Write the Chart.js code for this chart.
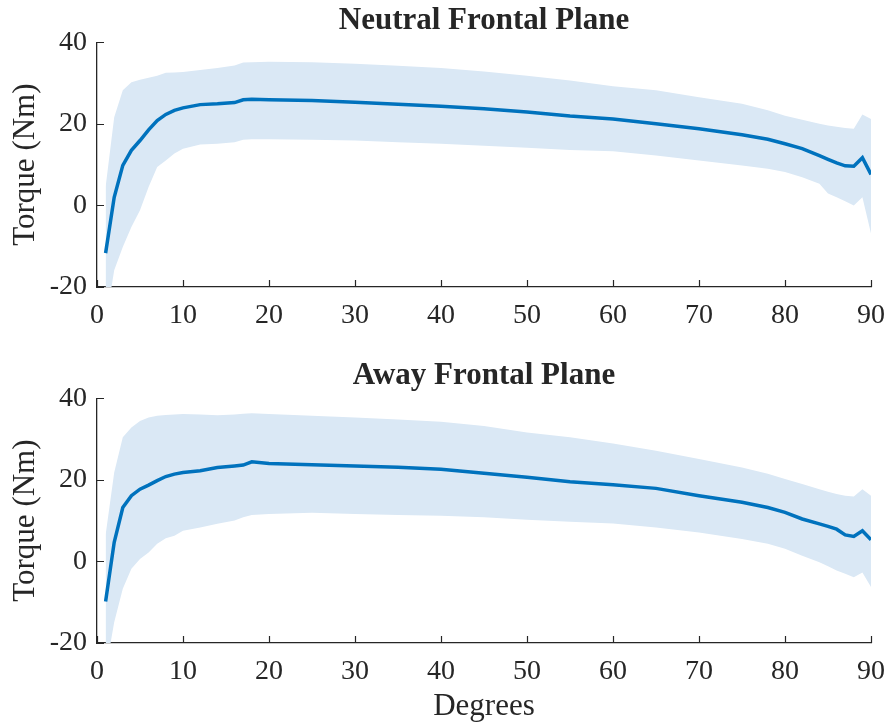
<!DOCTYPE html>
<html>
<head>
<meta charset="utf-8">
<script src="https://cdn.jsdelivr.net/npm/chart.js@4.4.1/dist/chart.umd.min.js"></script>
<style>
  html, body { margin: 0; padding: 0; background: #ffffff; }
  #page { position: relative; width: 891px; height: 725px; overflow: hidden; }
  .panel { position: absolute; left: 0; width: 891px; }
  #neutralPanel { top: 0; height: 345px; }
  #awayPanel { top: 345px; height: 380px; }
</style>
</head>
<body>
<div id="page">
  <div class="panel" id="neutralPanel"><canvas id="neutralChart"></canvas></div>
  <div class="panel" id="awayPanel"><canvas id="awayChart"></canvas></div>
</div>
<script>
// === Data (degrees vs torque, Nm) ===
const degrees = [1, 2, 3, 4, 5, 6, 7, 8, 9, 10, 12, 14, 16, 17, 18, 20, 25, 30, 35, 40,
  45, 50, 55, 60, 65, 70, 75, 78, 80, 82, 84, 85, 86, 87, 88, 89, 90];

// Neutral frontal plane: mean and shaded band (upper / lower)
const neutralMean = [-11.7, 2.0, 9.8, 13.5, 15.9, 18.5, 20.8, 22.3, 23.3, 23.9, 24.7, 24.9, 25.2, 25.9, 26.0, 25.9, 25.7, 25.3, 24.8, 24.3,
  23.7, 22.9, 21.9, 21.2, 20.0, 18.8, 17.3, 16.2, 15.1, 13.9, 12.2, 11.3, 10.4, 9.7, 9.6, 11.7, 7.6];
const neutralUpper = [4.5, 21.6, 28.2, 30.2, 30.8, 31.3, 31.8, 32.5, 32.6, 32.7, 33.2, 33.7, 34.3, 35.0, 35.1, 35.2, 35.1, 34.7, 34.2, 33.7,
  32.8, 31.8, 30.6, 29.2, 28.2, 26.5, 24.9, 23.3, 22.0, 21.0, 20.0, 19.6, 19.3, 19.0, 18.8, 22.3, 21.2];
const neutralLower = [-29, -15.9, -10.2, -5.3, -1.2, 4.5, 9.4, 11.0, 12.7, 13.9, 14.9, 15.1, 15.5, 16.1, 16.2, 16.2, 16.1, 15.9, 15.5, 15.1,
  14.6, 14.1, 13.6, 13.3, 12.2, 11.0, 9.8, 9.0, 8.2, 6.9, 5.3, 2.9, 2.0, 1.0, 0.0, 2.0, -6.9];

// Away frontal plane
const awayMean = [-9.8, 4.7, 13.2, 16.1, 17.7, 18.7, 19.8, 20.8, 21.4, 21.8, 22.2, 23.0, 23.4, 23.6, 24.4, 24.0, 23.7, 23.4, 23.1, 22.6,
  21.6, 20.6, 19.5, 18.8, 17.9, 16.1, 14.5, 13.2, 12.0, 10.4, 9.2, 8.6, 7.9, 6.5, 6.1, 7.5, 5.3];
const awayUpper = [6.5, 21.8, 30.4, 32.8, 34.4, 35.3, 35.7, 35.9, 36.0, 36.1, 36.0, 35.8, 36.0, 36.2, 36.3, 36.1, 35.7, 35.3, 34.8, 34.2,
  33.2, 31.6, 30.4, 28.9, 27.1, 25.1, 23.0, 21.5, 20.2, 19.0, 17.7, 17.1, 16.5, 16.1, 15.9, 17.7, 16.1];
const awayLower = [-27, -14.9, -6.7, -1.8, 0.6, 2.2, 4.3, 5.7, 6.3, 7.5, 8.3, 9.2, 10.0, 10.8, 11.4, 11.6, 11.9, 11.6, 11.4, 11.2,
  10.8, 10.2, 9.7, 9.3, 8.3, 7.1, 5.5, 4.3, 3.1, 1.4, -0.2, -1.2, -2.2, -3.0, -3.9, -2.7, -6.3];

const xTicks = [0, 10, 20, 30, 40, 50, 60, 70, 80, 90];
const yTicks = [-20, 0, 20, 40];

// === Look ===
const serif = '"Liberation Serif", "Times New Roman", Times, serif';
const inkColor = '#262626';
const lineColor = '#0072bd';
const bandColor = '#dae8f5';

Chart.defaults.devicePixelRatio = 1;
Chart.defaults.animation = false;

function toPoints(values) {
  return degrees.map(function (d, i) { return { x: d, y: values[i] }; });
}

// Inward-pointing tick marks, MATLAB style
const inwardTicks = {
  id: 'inwardTicks',
  afterDraw: function (chart) {
    const ctx = chart.ctx;
    const xs = chart.scales.x;
    const ys = chart.scales.y;
    const len = 7;
    ctx.save();
    ctx.strokeStyle = inkColor;
    ctx.lineWidth = 1.2;
    ctx.beginPath();
    xTicks.forEach(function (v) {
      const px = Math.round(xs.getPixelForValue(v)) + 0.5;
      ctx.moveTo(px, ys.bottom);
      ctx.lineTo(px, ys.bottom - len);
    });
    yTicks.forEach(function (v) {
      const py = Math.round(ys.getPixelForValue(v)) + 0.5;
      ctx.moveTo(xs.left, py);
      ctx.lineTo(xs.left + len, py);
    });
    ctx.stroke();
    ctx.restore();
  }
};

function makeChart(canvasId, title, mean, upper, lower, opts) {
  const ctx = document.getElementById(canvasId).getContext('2d');
  return new Chart(ctx, {
    type: 'line',
    data: {
      datasets: [{
        label: 'Mean',
        data: toPoints(mean),
        borderColor: lineColor,
        borderWidth: 3.5,
        pointRadius: 0,
        tension: 0,
        fill: false,
        order: 0
      }, {
        label: 'Upper',
        data: toPoints(upper),
        borderWidth: 0,
        borderColor: 'rgba(0,0,0,0)',
        backgroundColor: bandColor,
        pointRadius: 0,
        tension: 0,
        fill: '+1',
        order: 1
      }, {
        label: 'Lower',
        data: toPoints(lower),
        borderWidth: 0,
        borderColor: 'rgba(0,0,0,0)',
        pointRadius: 0,
        tension: 0,
        fill: false,
        order: 2
      }]
    },
    options: {
      responsive: true,
      maintainAspectRatio: false,
      layout: { padding: { left: 0, right: 20, top: 0, bottom: 0 } },
      plugins: {
        legend: { display: false },
        tooltip: { enabled: false },
        title: {
          display: true,
          fullSize: false,
          text: title,
          color: inkColor,
          font: { family: serif, size: 31, weight: 'bold' },
          padding: opts.titlePadding
        }
      },
      scales: {
        x: {
          type: 'linear',
          min: 0,
          max: 90,
          afterFit: function (scale) {
            scale.height = opts.xHeight;
            // keep the plot box fixed; the last label may hang over
            scale.paddingLeft = 0;
            scale.paddingRight = 0;
          },
          afterBuildTicks: function (scale) {
            scale.ticks = xTicks.map(function (v) { return { value: v }; });
          },
          title: {
            display: opts.showXTitle,
            text: 'Degrees',
            color: inkColor,
            font: { family: serif, size: 31 },
            padding: { top: 0, bottom: 0 }
          },
          ticks: {
            color: inkColor,
            font: { family: serif, size: 28 },
            padding: 12,
            maxRotation: 0,
            callback: function (value) { return String(value); }
          },
          grid: { display: false, drawTicks: false },
          border: { display: true, color: inkColor, width: 1.3 }
        },
        y: {
          min: -20,
          max: 40,
          afterFit: function (scale) {
            scale.width = 97;
            scale.paddingTop = 0;
            scale.paddingBottom = 0;
          },
          afterBuildTicks: function (scale) {
            scale.ticks = yTicks.map(function (v) { return { value: v }; });
          },
          title: {
            display: true,
            text: 'Torque (Nm)',
            color: inkColor,
            font: { family: serif, size: 31 },
            padding: { top: 7, bottom: 0 }
          },
          ticks: {
            color: inkColor,
            font: { family: serif, size: 28 },
            padding: 10,
            callback: function (value) { return String(value); }
          },
          grid: { display: false, drawTicks: false },
          border: { display: true, color: inkColor, width: 1.3 }
        }
      }
    },
    plugins: [inwardTicks]
  });
}

document.addEventListener('DOMContentLoaded', function () {
  // === Panel 1: Neutral Frontal Plane ===
  makeChart('neutralChart', 'Neutral Frontal Plane', neutralMean, neutralUpper, neutralLower, {
    titlePadding: { top: 2, bottom: 3 },
    xHeight: 58,
    showXTitle: false
  });

  // === Panel 2: Away Frontal Plane ===
  makeChart('awayChart', 'Away Frontal Plane', awayMean, awayUpper, awayLower, {
    titlePadding: { top: 12, bottom: 4 },
    xHeight: 82,
    showXTitle: true
  });
});
</script>
</body>
</html>
